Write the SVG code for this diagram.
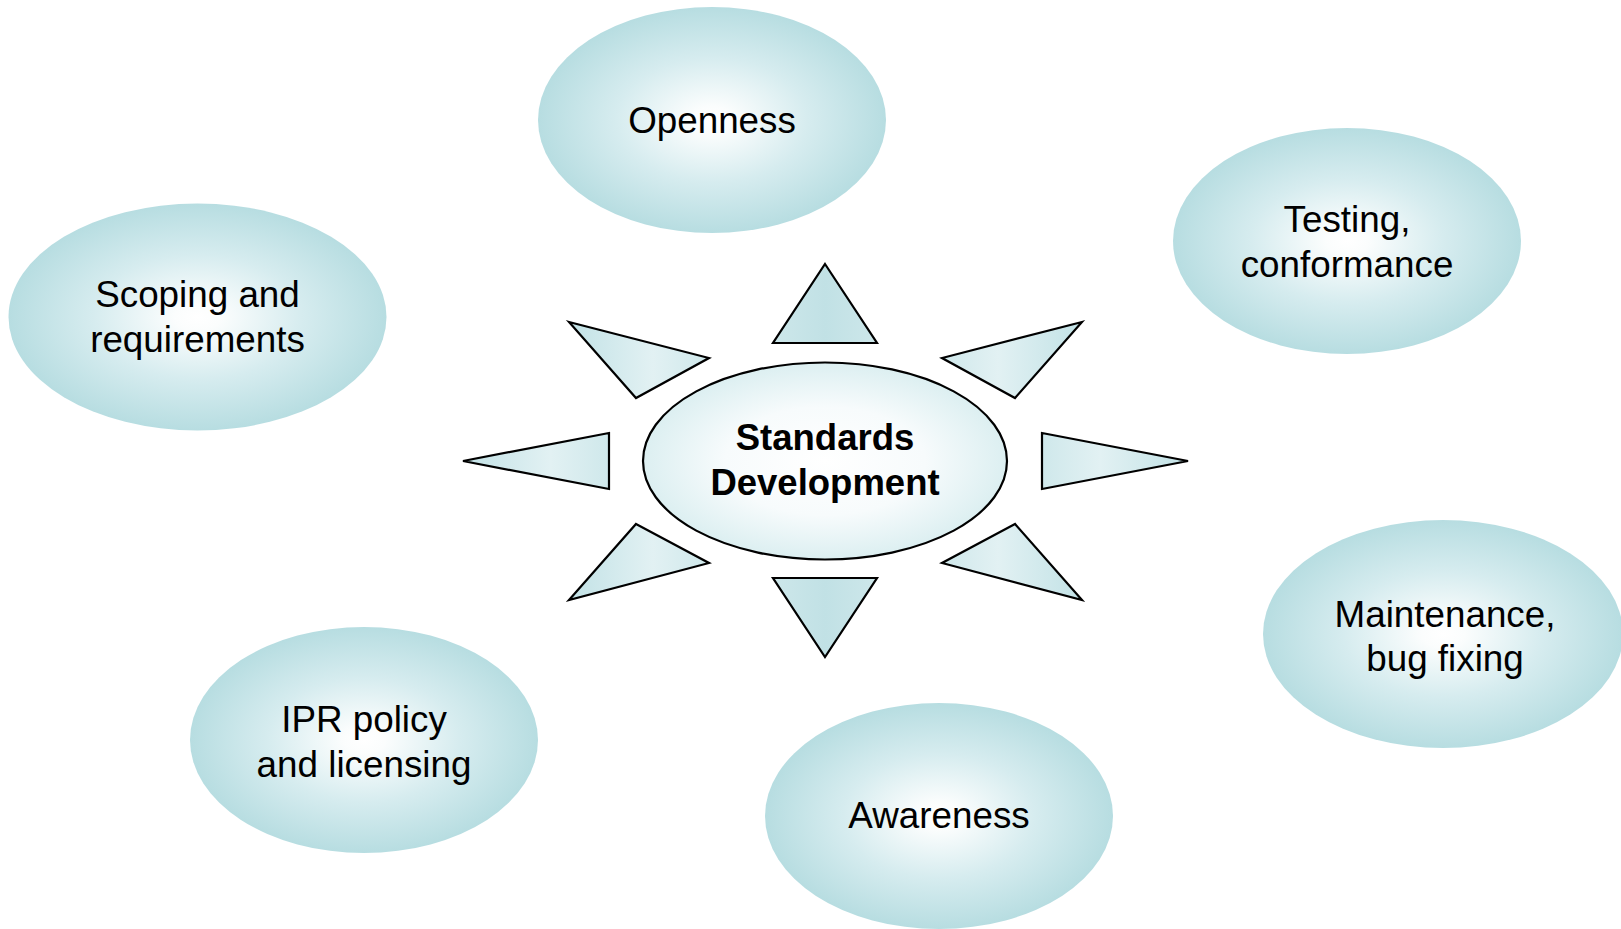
<svg xmlns="http://www.w3.org/2000/svg" width="1621" height="929" viewBox="0 0 1621 929">
<style>
.bubble{fill:url(#gBubble);stroke:none}
.lbl{font-family:"Liberation Sans",Arial,sans-serif;font-size:36.8px;fill:#000;text-anchor:middle}
.ctr{font-family:"Liberation Sans",Arial,sans-serif;font-size:36.5px;font-weight:bold;fill:#000;text-anchor:middle}
.ray{stroke:#000;stroke-width:2.2;stroke-linejoin:miter}
</style>
<defs>
<radialGradient id="gBubble" cx="0.5" cy="0.5" r="0.5">
<stop offset="0" stop-color="#ffffff"/>
<stop offset="0.12" stop-color="#fbfdfd"/>
<stop offset="0.55" stop-color="#d6ecef"/>
<stop offset="1" stop-color="#b7dde1"/>
</radialGradient>
<radialGradient id="gCenter" cx="0.5" cy="0.5" r="0.5">
<stop offset="0" stop-color="#ffffff"/>
<stop offset="0.55" stop-color="#f7fbfc"/>
<stop offset="1" stop-color="#dcEff1"/>
</radialGradient>
<linearGradient id="gRayL" x1="0" y1="0" x2="1" y2="0">
<stop offset="0" stop-color="#c2e2e6"/>
<stop offset="0.6" stop-color="#e2f1f3"/>
<stop offset="1" stop-color="#cfe8eb"/>
</linearGradient>
<linearGradient id="gRayR" x1="1" y1="0" x2="0" y2="0">
<stop offset="0" stop-color="#c2e2e6"/>
<stop offset="0.6" stop-color="#e2f1f3"/>
<stop offset="1" stop-color="#cfe8eb"/>
</linearGradient>
<linearGradient id="gRayV" x1="0" y1="0" x2="1" y2="0">
<stop offset="0" stop-color="#cde7ea"/>
<stop offset="0.5" stop-color="#c1e1e5"/>
<stop offset="1" stop-color="#cde7ea"/>
</linearGradient>
</defs>
<rect width="1621" height="929" fill="#ffffff"/>

<g id="connectors">
<polygon class="ray" fill="url(#gRayV)" points="825,264 877,343 773,343"/>
<polygon class="ray" fill="url(#gRayV)" points="773,578 877,578 825,657"/>
<polygon class="ray" fill="url(#gRayL)" points="463,461 609,433 609,489"/>
<polygon class="ray" fill="url(#gRayR)" points="1188,461 1042,433 1042,489"/>
<polygon class="ray" fill="url(#gRayL)" points="569,322 709,358 636,398"/>
<polygon class="ray" fill="url(#gRayR)" points="1082,322 942,358 1015,398"/>
<polygon class="ray" fill="url(#gRayL)" points="636,524 709,563 569,600"/>
<polygon class="ray" fill="url(#gRayR)" points="1015,524 942,563 1082,600"/>
</g>

<g id="center">
<ellipse cx="825" cy="461" rx="182" ry="98.5" fill="url(#gCenter)" stroke="#000" stroke-width="2.2"/>
<text class="ctr" x="825" y="449.5">Standards</text>
<text class="ctr" x="825" y="495">Development</text>
</g>

<g id="openness">
<ellipse class="bubble" cx="712" cy="120" rx="174" ry="113"/>
<text class="lbl" x="712" y="133">Openness</text>
</g>

<g id="testing">
<ellipse class="bubble" cx="1347" cy="241" rx="174" ry="113"/>
<text class="lbl" x="1347" y="231.7">Testing,</text>
<text class="lbl" x="1347" y="276.7">conformance</text>
</g>

<g id="scoping">
<ellipse class="bubble" cx="197.5" cy="317" rx="189" ry="113.5"/>
<text class="lbl" x="197.5" y="306.7">Scoping and</text>
<text class="lbl" x="197.5" y="351.7">requirements</text>
</g>

<g id="maintenance">
<ellipse class="bubble" cx="1443" cy="634" rx="180" ry="114"/>
<text class="lbl" x="1445" y="627">Maintenance,</text>
<text class="lbl" x="1445" y="671">bug fixing</text>
</g>

<g id="ipr">
<ellipse class="bubble" cx="364" cy="740" rx="174" ry="113"/>
<text class="lbl" x="364" y="731.7">IPR policy</text>
<text class="lbl" x="364" y="776.7">and licensing</text>
</g>

<g id="awareness">
<ellipse class="bubble" cx="939" cy="816" rx="174" ry="113"/>
<text class="lbl" x="939" y="828">Awareness</text>
</g>
</svg>
